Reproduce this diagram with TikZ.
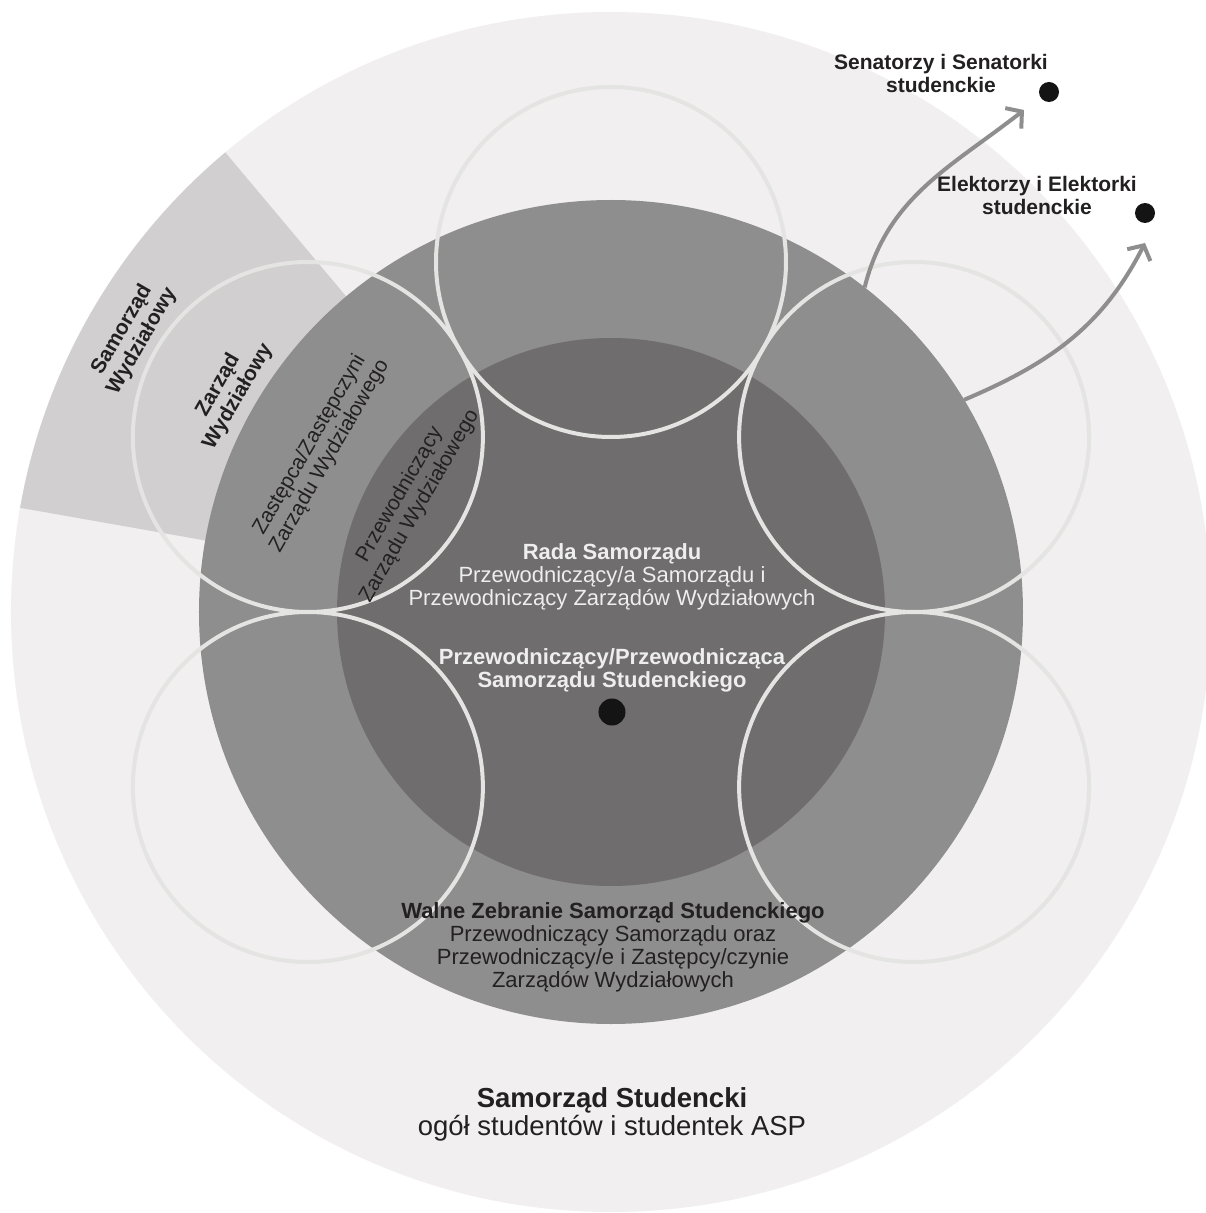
\documentclass[tikz,border=0pt]{standalone}
\usepackage{fontspec}
\setmainfont{Liberation Sans}
\usetikzlibrary{arrows.meta}
\definecolor{ringouter}{HTML}{F1EFF0}
\definecolor{ringwedge}{HTML}{D1CFD0}
\definecolor{ringmid}{HTML}{8F8E8E}
\definecolor{ringinner}{HTML}{6F6D6E}
\definecolor{ringline}{HTML}{E4E4E2}
\definecolor{txtdark}{HTML}{222021}
\definecolor{txtlight}{HTML}{EEEEEE}
\newcommand{\lblsize}{\fontsize{22}{23}\selectfont}
\newcommand{\sidesize}{\fontsize{21}{23}\selectfont}
\newcommand{\bigsize}{\fontsize{27.5}{28}\selectfont}

\begin{document}
\begin{tikzpicture}[x=1pt,y=1pt,
  disc/.style={circle,inner sep=0pt,outer sep=0pt},
  ring/.style={draw=ringline,line width=4pt},
  seat/.style={circle,fill=black!92,inner sep=0pt,minimum size=20pt},
  txt/.style={align=center,text=txtdark,inner sep=0pt,font=\lblsize},
  side/.style={txt,font=\sidesize,rotate=60},
  link/.style={draw=ringmid,line width=4pt,-{Straight Barb[length=11pt,width=26pt]}}]
\useasboundingbox (-611,-601) rectangle (595,612);

\fill[ringouter] (0,0) circle (600);
\fill[ringwedge] (0,0) -- (130:600) arc[start angle=130,end angle=170,radius=600] -- cycle;
\node[disc,fill=ringmid,minimum size=824pt] (walne) at (0,0) {};
\node[disc,fill=ringinner,minimum size=548pt] (rada) at (0,0) {};
\foreach \a in {30,90,150,210,330}
  \draw[ring] (\a:350) circle (175);

\node[side,font=\sidesize\bfseries] (samorzad-wydz) at (150:553) {Samorząd\\Wydziałowy};
\node[side,font=\sidesize\bfseries] (zarzad-wydz) at (150:442) {Zarząd\\Wydziałowy};
\node[side] (zastepca) at (151:333) {Zastępca/Zastępczyni\\Zarządu Wydziałowego};
\node[side] (przew-wydz) at (151:230) {Przewodniczący\\Zarządu Wydziałowego};

\node[txt,text=txtlight] (rada-txt) at (1,35) {\textbf{Rada Samorządu}\\Przewodniczący/a Samorządu i\\Przewodniczący Zarządów Wydziałowych};
\node[txt,text=txtlight,font=\lblsize\bfseries] (przew-txt) at (1,-58) {Przewodniczący/Przewodnicząca\\Samorządu Studenckiego};
\node[seat,minimum size=27pt] (przew) at (1,-100) {};
\node[txt] (walne-txt) at (2,-335) {\textbf{Walne Zebranie Samorząd Studenckiego}\\Przewodniczący Samorządu oraz\\Przewodniczący/e i Zastępcy/czynie\\Zarządów Wydziałowych};
\node[txt,font=\bigsize] (ogol-txt) at (1,-502) {\textbf{Samorząd Studencki}\\ogół studentów i studentek ASP};

\node[txt,font=\sidesize\bfseries] (senat-txt) at (330,539) {Senatorzy i Senatorki\\studenckie};
\node[seat] (senat) at (438,520) {};
\node[txt,font=\sidesize\bfseries] (elekt-txt) at (426,417) {Elektorzy i Elektorki\\studenckie};
\node[seat] (elekt) at (534,399) {};

\coordinate (senat-in) at (413,502);
\coordinate (elekt-in) at (534,369);
\draw[link] (walne.52) to[out=76,in=218] (senat-in);
\draw[link] (walne.31) to[out=23,in=243] (elekt-in);
\end{tikzpicture}
\end{document}
